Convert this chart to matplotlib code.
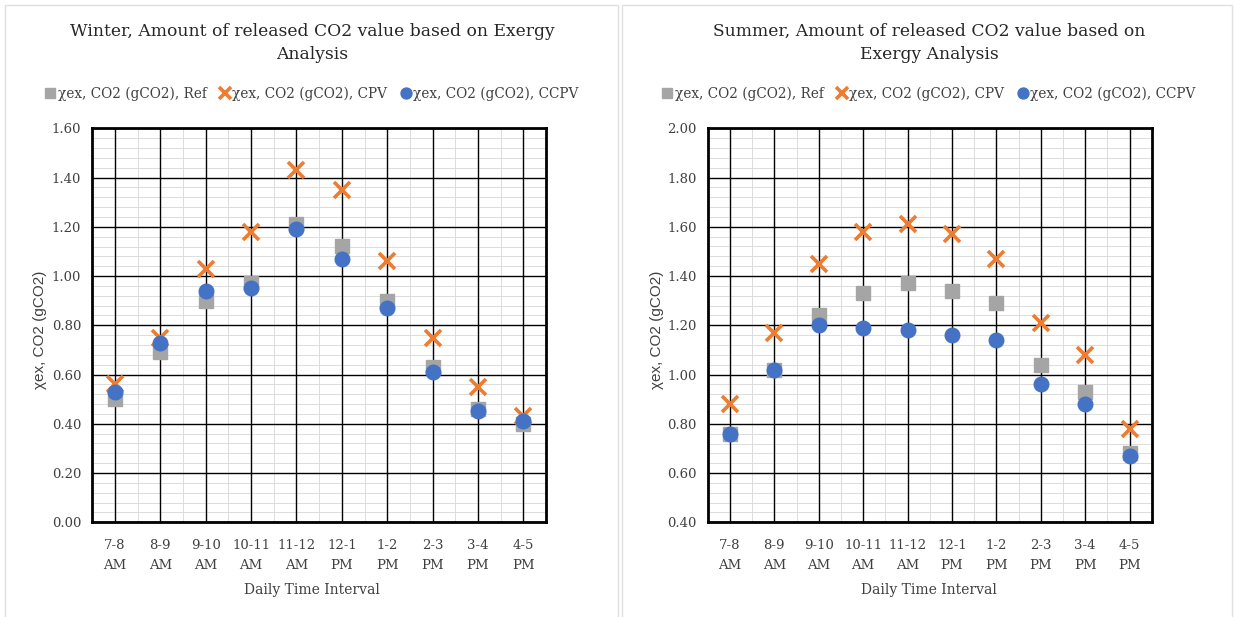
import matplotlib.pyplot as plt
from matplotlib.patches import Rectangle
from matplotlib.ticker import MultipleLocator
import numpy as np

intervals = ["7-8\nAM", "8-9\nAM", "9-10\nAM", "10-11\nAM", "11-12\nAM",
             "12-1\nPM", "1-2\nPM", "2-3\nPM", "3-4\nPM", "4-5\nPM"]

# winter, gCO2 per interval
winter_ref = [0.50, 0.69, 0.90, 0.97, 1.21, 1.12, 0.90, 0.63, 0.46, 0.40]
winter_cpv = [0.56, 0.75, 1.03, 1.18, 1.43, 1.35, 1.06, 0.75, 0.55, 0.43]
winter_ccpv = [0.53, 0.73, 0.94, 0.95, 1.19, 1.07, 0.87, 0.61, 0.45, 0.41]

# summer, gCO2 per interval
summer_ref = [0.76, 1.02, 1.24, 1.33, 1.37, 1.34, 1.29, 1.04, 0.93, 0.68]
summer_cpv = [0.88, 1.17, 1.45, 1.58, 1.61, 1.57, 1.47, 1.21, 1.08, 0.78]
summer_ccpv = [0.76, 1.02, 1.20, 1.19, 1.18, 1.16, 1.14, 0.96, 0.88, 0.67]

GRAY = "#A5A5A5"
ORANGE = "#ED7D31"
BLUE = "#4472C4"
TXT = "#404040"
SERIF = ["DejaVu Serif"]

fig = plt.figure(figsize=(12.34, 6.17), dpi=100)

# panel frames
for x0, w in [(5, 613), (622, 610)]:
    fig.patches.append(Rectangle((x0 / 1234, -0.01), w / 1234, 1.0 - 5 / 617 + 0.01,
                                 transform=fig.transFigure, fill=False,
                                 edgecolor="#E0E0E0", lw=1.0))


def panel(rect, ref, cpv, ccpv, ylim, title, ylab_x, cx):
    ax = fig.add_axes(rect)
    x = np.arange(len(intervals))
    ax.set_xlim(-0.5, len(intervals) - 0.5)
    ax.set_ylim(*ylim)

    ax.yaxis.set_major_locator(MultipleLocator(0.2))
    ax.yaxis.set_minor_locator(MultipleLocator(0.04))
    ax.set_xticks(x)
    ax.set_xticks(x[:-1] + 0.5, minor=True)
    # light minor grid underneath, black major lines drawn on top of it
    ax.grid(which="minor", color="#DCDCDC", lw=0.7)
    ax.set_axisbelow(True)
    for yv in ax.get_yticks():
        ax.axhline(yv, color="black", lw=1.0, zorder=1)
    for xv in x:
        ax.axvline(xv, color="black", lw=1.0, zorder=1)
    for s in ax.spines.values():
        s.set_linewidth(2)
        s.set_color("black")
        s.set_zorder(4)

    ax.set_xticklabels(intervals, fontfamily=SERIF, fontsize=9.5,
                       color=TXT, linespacing=1.7)
    ax.set_yticklabels([f"{v:.2f}" for v in ax.get_yticks()],
                       fontfamily=SERIF, fontsize=9.5, color=TXT)
    ax.tick_params(which="both", length=0, pad=8)
    ax.tick_params(axis="x", pad=12)

    ax.plot(x, ref, ls="none", marker="s", ms=10.5, color=GRAY, zorder=3,
            label="χex, CO2 (gCO2), Ref")
    ax.plot(x, cpv, ls="none", marker="x", ms=11, mew=2.6, color=ORANGE, zorder=3,
            label="χex, CO2 (gCO2), CPV")
    ax.plot(x, ccpv, ls="none", marker="o", ms=10.5, color=BLUE, zorder=3,
            label="χex, CO2 (gCO2), CCPV")

    fig.text(cx / 1234, 1 - 43 / 617, title, ha="center", va="center",
             fontfamily=SERIF, fontsize=12.3, color="#262626", linespacing=1.45)
    fig.text(cx / 1234, 1 - 590 / 617, "Daily Time Interval", ha="center",
             va="center", fontfamily=SERIF, fontsize=10, color=TXT)
    fig.text(ylab_x / 1234, 1 - 330 / 617, "χex, CO2 (gCO2)", rotation=90,
             ha="center", va="center", fontfamily=["Liberation Sans", "DejaVu Sans"],
             fontsize=11, color=TXT)

    leg = ax.legend(loc="center", bbox_to_anchor=((cx - rect[0] * 1234) / (rect[2] * 1234),
                                                    (522.3 - 94) / 394),
                    ncol=3, frameon=False, handlelength=0.7, handletextpad=0.2,
                    columnspacing=1.0, prop={"family": SERIF, "size": 9.8},
                    markerscale=0.75)
    for t in leg.get_texts():
        t.set_color(TXT)
    return ax


panel([92.3 / 1234, 1 - 522.3 / 617, 453.7 / 1234, 394 / 617],
      winter_ref, winter_cpv, winter_ccpv, (0, 1.6),
      "Winter, Amount of released CO2 value based on Exergy\nAnalysis", 40, 312)
panel([707.7 / 1234, 1 - 522.3 / 617, 444 / 1234, 394 / 617],
      summer_ref, summer_cpv, summer_ccpv, (0.4, 2.0),
      "Summer, Amount of released CO2 value based on\nExergy Analysis", 657, 929)

fig.savefig("out.png", dpi=100)
